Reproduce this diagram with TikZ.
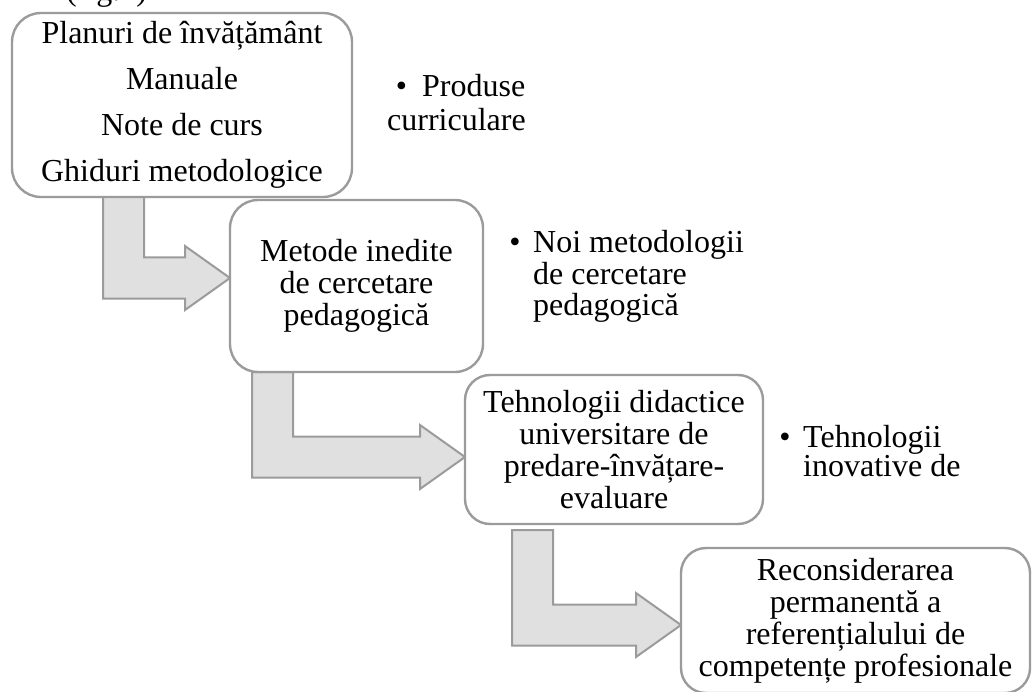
\documentclass[tikz,border=0pt]{standalone}
\usepackage{fontspec}
\setmainfont{Liberation Serif}
\usetikzlibrary{calc,backgrounds}
\definecolor{bordergray}{RGB}{155,155,155}
\definecolor{arrowfill}{RGB}{224,224,224}
\newcommand\bentarrow[2]{%
  \draw[bent] (#1) -- ++(41,0) |- ($(#2)+(-45,-20.5)$) -- ++(0,-11.5) -- (#2)
    -- ++(-45,32) -- ++(0,-11.5) -| (#1) -- cycle;}
\begin{document}
\begin{tikzpicture}[x=1pt,y=-1pt,
  box/.style={draw=bordergray, line width=2.4pt, fill=white, align=center,
    inner sep=0pt, outer sep=0pt, font=\fontsize{32}{32}\selectfont},
  bent/.style={draw=bordergray, line width=2pt, fill=arrowfill, line join=miter},
  txt/.style={anchor=base west, inner sep=0pt, font=\fontsize{32}{32}\selectfont},
  bul/.style={anchor=base, inner sep=0pt, font=\fontsize{32}{32}\selectfont}]
\useasboundingbox (0,0) rectangle (1032,692);

% clipped caption fragment at the top
\node[txt] (cap) at (66,0.5) {(fig.1)};

% boxes
\node[box, rounded corners=29pt, minimum width=340pt, minimum height=184pt,
  font=\fontsize{32}{46}\selectfont] (b1) at (182,105)
  {Planuri de învățământ\\Manuale\\Note de curs\\Ghiduri metodologice};
\node[box, rounded corners=28pt, minimum width=253pt, minimum height=172pt] (b2) at (356.5,286)
  {Metode inedite\\de cercetare\\pedagogică};
\node[box, rounded corners=25pt, minimum width=298pt, minimum height=149pt] (b3) at (614,449.5)
  {Tehnologii didactice\\universitare de\\predare-învățare-\\evaluare};
\node[box, rounded corners=25pt, minimum width=349pt, minimum height=145pt] (b4) at (855.5,620.5)
  {Reconsiderarea\\permanentă a\\referențialului de\\competențe profesionale};

% bent arrows behind the boxes
\begin{scope}[on background layer]
  \coordinate (a1s) at ($(b1.south west)+(91,0)$);
  \coordinate (a1t) at ($(b2.west)+(0,-8)$);
  \coordinate (a2s) at ($(b2.south west)+(22,0)$);
  \coordinate (a2t) at ($(b3.west)+(0,7.5)$);
  \coordinate (a3s) at ($(b3.south west)+(47,6)$);
  \coordinate (a3t) at ($(b4.west)+(0,4.5)$);
  \bentarrow{a1s}{a1t}
  \bentarrow{a2s}{a2t}
  \bentarrow{a3s}{a3t}
\end{scope}

% bullet texts
\node[bul] (d1) at (401.5,97) {•};
\node[txt] (p1a) at (422,97) {Produse};
\node[txt] (p1b) at (387,131) {curriculare};

\node[bul] (d2) at (515,253) {•};
\node[txt] (p2a) at (533,253) {Noi metodologii};
\node[txt] (p2b) at (533,284) {de cercetare};
\node[txt] (p2c) at (533,315) {pedagogică};

\node[bul] (d3) at (785,447) {•};
\node[txt] (p3a) at (803,447) {Tehnologii};
\node[txt] (p3b) at (803,476) {inovative de};
\end{tikzpicture}
\end{document}
